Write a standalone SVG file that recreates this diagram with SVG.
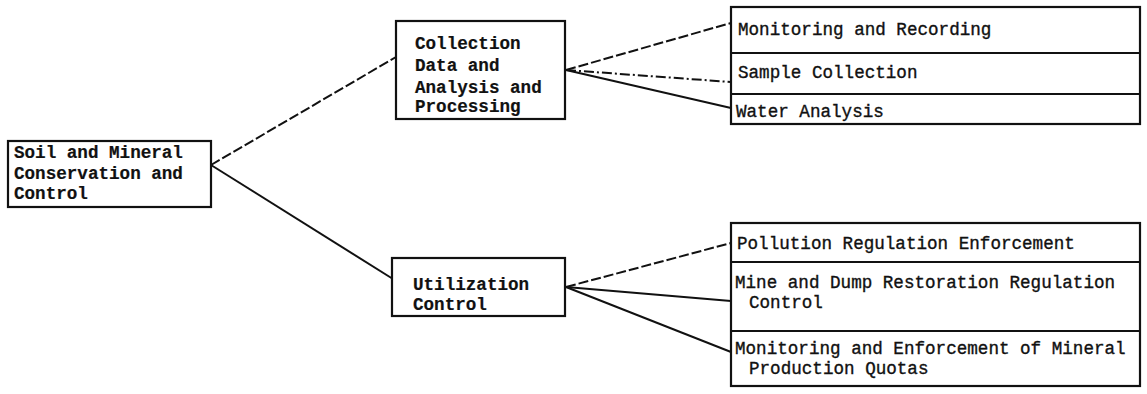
<svg xmlns="http://www.w3.org/2000/svg" width="1147" height="394" viewBox="0 0 1147 394">
<style>
  .box { fill: #fff; stroke: #111; stroke-width: 2.2; }
  .sep { stroke: #111; stroke-width: 1.8; }
  .t { font-family: "Liberation Mono", "DejaVu Sans Mono", monospace; font-size: 17.6px; fill: #111; stroke: #111; stroke-width: 0.35; }
  .b { font-weight: bold; stroke-width: 0.2; }
  .c { fill: none; stroke: #111; stroke-width: 2; }
  .dash { stroke-dasharray: 10 3; }
  .dashdot { stroke-dasharray: 10 3 2 3; }
</style>
<rect width="1147" height="394" fill="#fff"/>
<g id="connectors">
  <line class="c dash" x1="211" y1="165" x2="396" y2="57"/>
  <line class="c" x1="211" y1="165" x2="393" y2="279"/>
  <line class="c dash" x1="566" y1="70" x2="731" y2="23"/>
  <line class="c dashdot" x1="566" y1="70" x2="731" y2="82"/>
  <line class="c" x1="566" y1="70" x2="731" y2="108"/>
  <line class="c dash" x1="566" y1="287" x2="731" y2="243"/>
  <line class="c" x1="566" y1="287" x2="731" y2="301"/>
  <line class="c" x1="566" y1="287" x2="731" y2="352"/>
</g>
<g id="root">
  <rect class="box" x="8" y="141" width="203" height="66"/>
  <text class="t b" x="14" y="158">Soil and Mineral</text>
  <text class="t b" x="14" y="179">Conservation and</text>
  <text class="t b" x="14" y="199">Control</text>
</g>
<g id="collection">
  <rect class="box" x="396" y="21" width="169" height="98"/>
  <text class="t b" x="415" y="49">Collection</text>
  <text class="t b" x="415" y="71">Data and</text>
  <text class="t b" x="415" y="93">Analysis and</text>
  <text class="t b" x="415" y="112">Processing</text>
</g>
<g id="utilization">
  <rect class="box" x="392" y="258" width="173" height="58"/>
  <text class="t b" x="413" y="290">Utilization</text>
  <text class="t b" x="413" y="310">Control</text>
</g>
<g id="collection-tasks">
  <rect class="box" x="731" y="7" width="409" height="117"/>
  <line class="sep" x1="731" y1="53" x2="1140" y2="53"/>
  <line class="sep" x1="731" y1="94" x2="1140" y2="94"/>
  <g id="monitoring-recording"><text class="t" x="738" y="35">Monitoring and Recording</text></g>
  <g id="sample-collection"><text class="t" x="738" y="78">Sample Collection</text></g>
  <g id="water-analysis"><text class="t" x="736" y="117">Water Analysis</text></g>
</g>
<g id="utilization-tasks">
  <rect class="box" x="731" y="223" width="409" height="163"/>
  <line class="sep" x1="731" y1="262" x2="1140" y2="262"/>
  <line class="sep" x1="731" y1="331" x2="1140" y2="331"/>
  <g id="pollution"><text class="t" x="737" y="249">Pollution Regulation Enforcement</text></g>
  <g id="mine-dump"><text class="t" x="735" y="288">Mine and Dump Restoration Regulation</text>
  <text class="t" x="749" y="308">Control</text></g>
  <g id="quotas"><text class="t" x="735" y="354">Monitoring and Enforcement of Mineral</text>
  <text class="t" x="749" y="374">Production Quotas</text></g>
</g>
</svg>
